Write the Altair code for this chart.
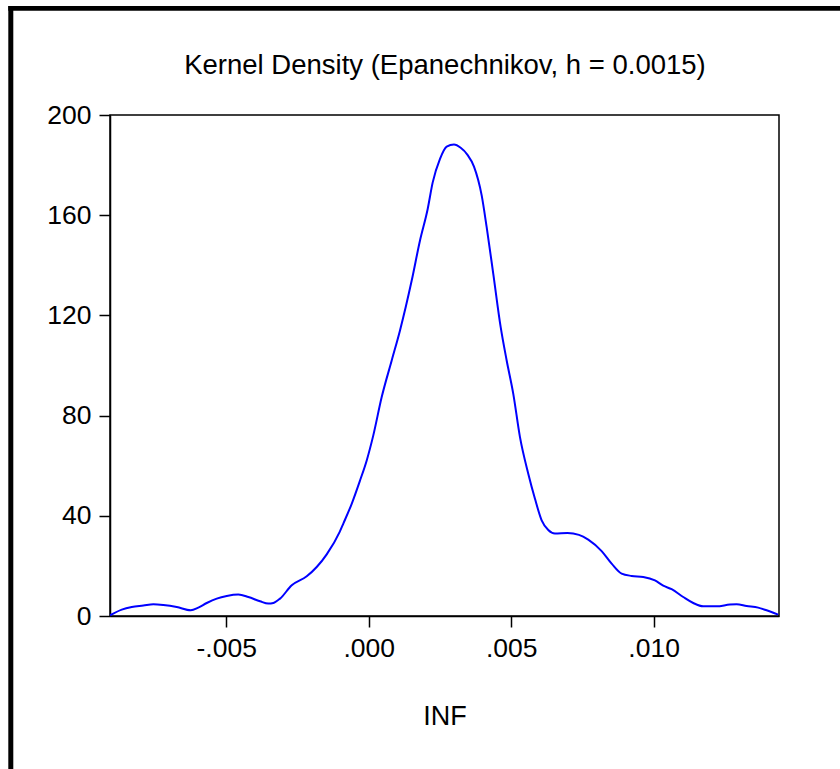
import altair as alt
import pandas as pd

X_VALS = [-0.009077, -0.008667, -0.008316, -0.007909, -0.007558, -0.007207, -0.006737, -0.006246,
          -0.005979, -0.005684, -0.005333, -0.004982, -0.004576, -0.004225, -0.003814, -0.003523,
          -0.003347, -0.003112, -0.002702, -0.002175, -0.001825, -0.001474, -0.001018, -0.000891,
          -0.000597, -0.000305, -0.000070, 0.000161, 0.000456, 0.000807, 0.001098, 0.001509,
          0.001800, 0.002070, 0.002246, 0.002502, 0.002737, 0.002993, 0.003228, 0.003460,
          0.003695, 0.003965, 0.004140, 0.004372, 0.004632, 0.004842, 0.005074, 0.005309,
          0.005600, 0.005835, 0.006070, 0.006302, 0.006537, 0.006976, 0.007379, 0.007705,
          0.008175, 0.008526, 0.008877, 0.009228, 0.009635, 0.010046, 0.010337, 0.010632,
          0.011039, 0.011390, 0.011740, 0.012210, 0.012678, 0.012912, 0.013263, 0.013670,
          0.013965, 0.014372]
Y_VALS = [0.3, 2.55, 3.59, 4.15, 4.67, 4.39, 3.59, 2.27,
          3.35, 5.19, 6.94, 7.98, 8.54, 7.58, 5.87, 4.95,
          5.19, 6.94, 12.25, 15.84, 19.55, 24.6, 33.6, 36.9,
          44.8, 54.1, 62.1, 72.1, 87.4, 102.0, 114.0, 133.9,
          149.9, 162.5, 173.1, 182.5, 187.4, 188.2, 186.9, 184.2,
          179.4, 167.9, 155.2, 136.6, 115.3, 102.0, 88.7, 71.4,
          56.8, 46.8, 38.2, 34.3, 32.9, 33.1, 32.4, 30.5,
          25.9, 20.9, 16.9, 16.0, 15.6, 14.2, 12.1, 10.7,
          7.58, 5.19, 3.87, 3.87, 4.55, 4.67, 3.99, 3.35,
          2.27, 0.56]

X_TICKS = [-0.005, 0.0, 0.005, 0.010]
X_TICK_LABELS = ["-.005", ".000", ".005", ".010"]
Y_TICKS = [0, 40, 80, 120, 160, 200]
TITLE = "Kernel Density (Epanechnikov, h = 0.0015)"
X_TITLE = "INF"

df = pd.DataFrame({"x": X_VALS, "y": Y_VALS})

FONT = "Liberation Sans"

label_expr = "''"
for v, lab in zip(X_TICKS, X_TICK_LABELS):
    label_expr = f"abs(datum.value - ({v})) < 1e-9 ? '{lab}' : ({label_expr})"

line = alt.Chart(df).mark_line(color="#0000FF", strokeWidth=2, interpolate="monotone").encode(
    x=alt.X("x:Q",
            scale=alt.Scale(domain=[-0.00908, 0.0144], nice=False, zero=False),
            axis=alt.Axis(values=X_TICKS, labelExpr=label_expr, grid=False,
                          tickSize=11, tickWidth=1.5, tickColor="black",
                          domainColor="black", domainWidth=1.5,
                          labelFont=FONT, labelFontSize=26.5, labelColor="black",
                          labelPadding=8, labelFlush=False, labelOverlap=False,
                          titleFont=FONT, titleFontSize=27, titleFontWeight="normal",
                          titleColor="black", titlePadding=42),
            title=X_TITLE),
    y=alt.Y("y:Q",
            scale=alt.Scale(domain=[0, 200], nice=False),
            axis=alt.Axis(values=Y_TICKS, grid=False,
                          tickSize=11, tickWidth=1.5, tickColor="black",
                          domainColor="black", domainWidth=1.5,
                          labelFont=FONT, labelFontSize=26.5, labelColor="black",
                          labelPadding=8, labelFlush=False, labelOverlap=False),
            title=None),
)

one = pd.DataFrame({"a": [0]})
top_border = alt.Chart(one).mark_rule(color="black", strokeWidth=4.7).encode(
    x=alt.value(-101.7), x2=alt.value(731), y=alt.value(-106.7))
left_border = alt.Chart(one).mark_rule(color="black", strokeWidth=5).encode(
    x=alt.value(-99.2), y=alt.value(-109), y2=alt.value(655))
title_text = alt.Chart(one).mark_text(
    font=FONT, fontSize=27.5, color="black", align="center", baseline="alphabetic"
).encode(x=alt.value(335), y=alt.value(-41), text=alt.value(TITLE))

chart = alt.layer(line, top_border, left_border, title_text).properties(
    width=669, height=501,
    padding={"left": 110, "top": 115, "right": 61, "bottom": 153},
    autosize=alt.AutoSizeParams(type="none"),
).configure_view(stroke="black", strokeWidth=1.5)

chart.save("out.html", embed_options={"renderer": "svg", "actions": False})
